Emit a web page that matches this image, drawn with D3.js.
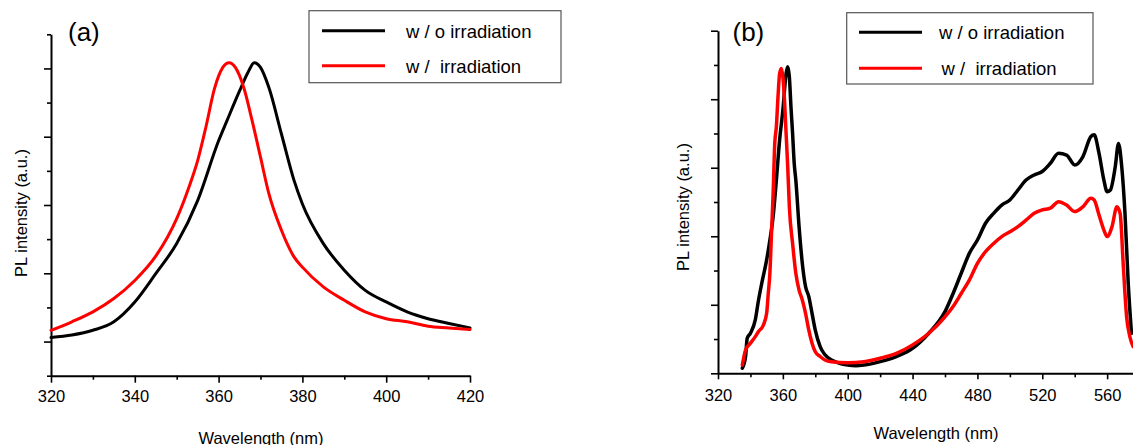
<!DOCTYPE html>
<html>
<head>
<meta charset="utf-8">
<script src="https://cdn.jsdelivr.net/npm/d3@7"></script>
<style>
  body { margin: 0; background: #fff; }
  svg { display: block; font-family: "Liberation Sans", Arial, sans-serif; }
</style>
</head>
<body>
<div id="chart"></div>
<script>
// PL spectra, panel (a): wavelength (nm) and intensity (a.u.)
const aWaveNoIrr = [320, 325, 330, 335, 340, 345, 350, 355, 360, 362, 365, 367, 368.5, 370, 372, 375, 378, 380, 385, 390, 395, 400, 405, 410, 415, 420];
const aIntNoIrr  = [1.12, 1.19, 1.33, 1.58, 2.16, 2.99, 3.87, 5.13, 6.88, 7.47, 8.34, 8.88, 9.17, 9.03, 8.44, 7.08, 5.72, 5.03, 3.87, 3.09, 2.50, 2.16, 1.87, 1.67, 1.53, 1.40];
const aWaveIrr   = [320, 325, 330, 335, 340, 345, 350, 353, 355, 357, 359, 361, 362.5, 364, 366, 368, 370, 372, 375, 378, 380, 385, 390, 395, 400, 405, 410, 415, 420];
const aIntIrr    = [1.33, 1.58, 1.87, 2.26, 2.79, 3.50, 4.60, 5.55, 6.30, 7.30, 8.40, 9.03, 9.17, 9.03, 8.44, 7.47, 6.40, 5.33, 4.26, 3.48, 3.18, 2.60, 2.21, 1.87, 1.67, 1.58, 1.45, 1.40, 1.35];

// panel (b)
const bWaveNoIrr = [335, 337, 338, 340, 343, 345, 347, 350, 352, 354, 356, 358, 360, 362, 363, 364, 365, 366, 367, 368, 370, 372, 374, 376, 378, 380, 383, 386, 390, 395, 400, 405, 410, 420, 430, 440, 450, 460, 465, 470, 475, 480, 485, 490, 495, 500, 505, 510, 515, 520, 525, 530, 535, 540, 545, 550, 552, 555, 558, 560, 562, 565, 567, 569, 571, 573, 575];
const bIntNoIrr  = [0.15, 0.49, 1.02, 1.17, 1.56, 2.14, 2.63, 3.31, 3.89, 4.57, 5.64, 6.81, 7.68, 8.75, 8.95, 8.66, 7.78, 7.00, 6.13, 5.64, 4.28, 3.21, 2.53, 2.24, 1.75, 1.26, 0.78, 0.54, 0.39, 0.29, 0.24, 0.22, 0.24, 0.34, 0.49, 0.73, 1.17, 1.80, 2.33, 2.92, 3.50, 3.89, 4.38, 4.67, 4.91, 5.06, 5.35, 5.64, 5.79, 5.89, 6.13, 6.42, 6.37, 6.08, 6.32, 6.91, 6.96, 6.42, 5.64, 5.30, 5.35, 6.03, 6.71, 6.03, 4.67, 2.63, 1.17];
const bWaveIrr   = [335, 337, 340, 343, 345, 348, 350, 351, 352, 353, 354, 355, 356, 357, 358, 359, 360, 361, 362, 363, 364, 366, 368, 370, 372, 374, 376, 378, 380, 383, 386, 390, 400, 410, 420, 430, 440, 450, 460, 465, 470, 475, 480, 485, 490, 495, 500, 505, 510, 515, 520, 525, 530, 535, 540, 545, 550, 552, 555, 558, 560, 563, 566, 568, 570, 572, 574, 576];
const bIntIrr    = [0.24, 0.68, 0.88, 1.07, 1.22, 1.41, 1.75, 2.33, 2.92, 4.09, 5.25, 6.71, 7.20, 8.07, 8.75, 8.90, 8.66, 7.98, 7.00, 6.03, 4.86, 3.79, 2.92, 2.43, 2.14, 1.75, 1.26, 0.88, 0.63, 0.49, 0.39, 0.34, 0.31, 0.34, 0.44, 0.58, 0.83, 1.17, 1.65, 1.95, 2.33, 2.72, 3.21, 3.55, 3.79, 3.99, 4.13, 4.28, 4.47, 4.67, 4.77, 4.82, 5.01, 4.91, 4.72, 4.86, 5.11, 5.06, 4.62, 4.18, 3.99, 4.28, 4.86, 4.67, 3.11, 1.65, 1.07, 0.78];

// ticks
const aXMajor = [320, 340, 360, 380, 400, 420];
const aXMinor = [330, 350, 370, 390, 410];
const aYMajor = [1, 3, 5, 7, 9];
const aYMinor = [0, 2, 4, 6, 8, 10];
const bXMajor = [320, 360, 400, 440, 480, 520, 560];
const bXMinor = [340, 380, 420, 460, 500, 540, 580];
const bYMajor = [0, 2, 4, 6, 8, 10];
const bYMinor = [1, 3, 5, 7, 9];

const seriesNames = ['w / o irradiation', 'w /  irradiation'];
const seriesColors = ['#000000', '#ff0000'];

const W = 1133, H = 445;
const svg = d3.select('#chart').append('svg')
  .attr('width', W)
  .attr('height', H);

function drawPanel(cfg) {
  const g = svg.append('g');

  // x axis: major ticks with labels, minor without
  const xMaj = g.append('g')
    .attr('transform', `translate(0,${cfg.y.range()[0]})`)
    .call(d3.axisBottom(cfg.x).tickValues(cfg.xMajor).tickSize(cfg.xMajLen).tickSizeOuter(0).tickFormat(d3.format('d')));
  xMaj.selectAll('text')
    .attr('y', cfg.tickLabelY).attr('dy', null)
    .style('font-size', '16.5px').style('font-family', 'inherit').attr('fill', '#000');
  g.append('g')
    .attr('transform', `translate(0,${cfg.y.range()[0]})`)
    .call(d3.axisBottom(cfg.x).tickValues(cfg.xMinor).tickSize(cfg.xMinLen).tickSizeOuter(0).tickFormat(''))
    .select('.domain').remove();

  // y axis, no labels
  g.append('g')
    .attr('transform', `translate(${cfg.x.range()[0]},0)`)
    .call(d3.axisLeft(cfg.y).tickValues(cfg.yMajor).tickSize(7).tickSizeOuter(0).tickFormat(''));
  g.append('g')
    .attr('transform', `translate(${cfg.x.range()[0]},0)`)
    .call(d3.axisLeft(cfg.y).tickValues(cfg.yMinor).tickSize(4).tickSizeOuter(0).tickFormat(''))
    .select('.domain').remove();

  g.selectAll('.domain').attr('stroke', '#000').attr('stroke-width', 2);
  g.selectAll('.tick line').attr('stroke', '#000').attr('stroke-width', 1.6);

  // curves
  const line = d3.line()
    .x(d => cfg.x(d[0]))
    .y(d => cfg.y(d[1]))
    .curve(d3.curveMonotoneX);
  cfg.series.forEach((s, i) => {
    g.append('path')
      .datum(d3.zip(s.wave, s.int))
      .attr('fill', 'none')
      .attr('stroke', seriesColors[i])
      .attr('stroke-width', cfg.lineWidth)
      .attr('stroke-linejoin', 'round')
      .attr('stroke-linecap', 'round')
      .attr('d', line);
  });

  // axis titles
  g.append('text')
    .attr('x', cfg.xTitle[0]).attr('y', cfg.xTitle[1])
    .attr('text-anchor', 'middle')
    .style('font-size', '16.5px')
    .text('Wavelength (nm)');
  g.append('text')
    .attr('transform', `translate(${cfg.yTitle[0]},${cfg.yTitle[1]}) rotate(-90)`)
    .attr('text-anchor', 'middle')
    .style('font-size', '16.5px')
    .text('PL intensity (a.u.)');

  // panel label
  g.append('text')
    .attr('x', cfg.tag[0]).attr('y', cfg.tag[1])
    .style('font-size', '26px')
    .text(cfg.tagText);

  // legend
  const lg = cfg.legend;
  g.append('rect')
    .attr('x', lg.x0).attr('y', lg.y0)
    .attr('width', lg.x1 - lg.x0).attr('height', lg.y1 - lg.y0)
    .attr('fill', 'none').attr('stroke', '#555').attr('stroke-width', 1.2);
  seriesNames.forEach((name, i) => {
    g.append('line')
      .attr('x1', lg.lx0).attr('x2', lg.lx1)
      .attr('y1', lg.rows[i]).attr('y2', lg.rows[i])
      .attr('stroke', seriesColors[i]).attr('stroke-width', 3);
    g.append('text')
      .attr('x', lg.tx[i]).attr('y', lg.rows[i] + 7)
      .style('font-size', '18.5px')
      .style('white-space', 'pre')
      .text(name);
  });
}

drawPanel({
  x: d3.scaleLinear().domain([320, 420]).range([51, 470]),
  y: d3.scaleLinear().domain([0, 10]).range([375.7, 34.3]),
  xMajor: aXMajor, xMinor: aXMinor, yMajor: aYMajor, yMinor: aYMinor,
  xMajLen: 7, xMinLen: 4, tickLabelY: 26.5,
  lineWidth: 3,
  series: [{ wave: aWaveNoIrr, int: aIntNoIrr }, { wave: aWaveIrr, int: aIntIrr }],
  xTitle: [261, 443.5], yTitle: [27, 213],
  tag: [68, 41], tagText: '(a)',
  legend: { x0: 309, x1: 561, y0: 10.7, y1: 82.7, lx0: 322, lx1: 385, rows: [30.7, 65.7], tx: [406, 406] }
});

drawPanel({
  x: d3.scaleLinear().domain([320, 600]).range([718, 1172]),
  y: d3.scaleLinear().domain([0, 10]).range([373.3, 30.7]),
  xMajor: bXMajor, xMinor: bXMinor, yMajor: bYMajor, yMinor: bYMinor,
  xMajLen: 6, xMinLen: 4, tickLabelY: 27.4,
  lineWidth: 3.5,
  series: [{ wave: bWaveNoIrr, int: bIntNoIrr }, { wave: bWaveIrr, int: bIntIrr }],
  xTitle: [936, 438.5], yTitle: [689, 207],
  tag: [732.5, 41], tagText: '(b)',
  legend: { x0: 846.7, x1: 1093, y0: 12.7, y1: 84, lx0: 859, lx1: 922, rows: [32.3, 68.3], tx: [939, 941.5] }
});
</script>
</body>
</html>
